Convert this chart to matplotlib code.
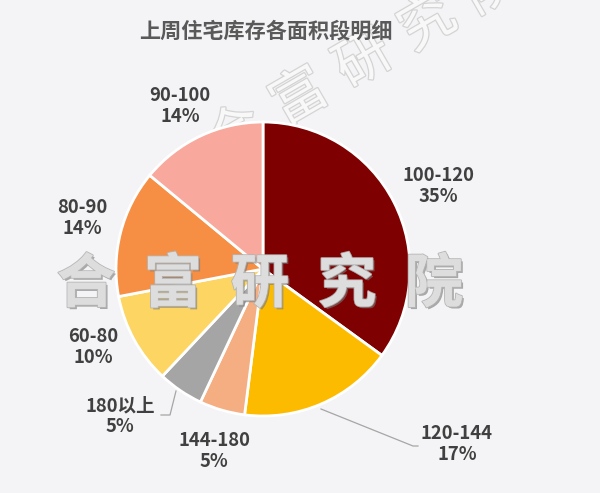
import matplotlib
matplotlib.use("Agg")
import matplotlib.pyplot as plt
import matplotlib.patheffects as pe

plt.rcParams['font.family'] = ['Noto Sans CJK SC', 'DejaVu Sans']

title = "上周住宅库存各面积段明细"
categories = ["100-120", "120-144", "144-180", "180以上", "60-80", "80-90", "90-100"]
values = [35, 17, 5, 5, 10, 14, 14]
colors = ["#7f0000", "#fdbb00", "#f4ae82", "#a5a5a5", "#fdd562", "#f68f43", "#f8a89c"]
watermark = "合富研究院"

# label positions (pixel coords, y from top)
label_pos = [(438, 186), (457, 444), (214, 451), (120, 416), (93, 347), (82, 218), (180, 106)]

W, H = 600, 493
fig = plt.figure(figsize=(6, 4.93), dpi=100)
fig.patch.set_facecolor("#f4f3f5")
ax = fig.add_axes([0, 0, 1, 1])

def Y(y):
    return H - y

# diagonal watermark (behind pie)
dx, dy = 64, -37
for i, ch in enumerate(watermark):
    ax.text(236 + i * dx, Y(135 + i * dy), ch, fontsize=40, color="#f8f8f8",
            ha="center", va="center", rotation=30, zorder=0.5, clip_on=True,
            path_effects=[pe.withStroke(linewidth=1.8, foreground="#d4d4d4")])

cx, cy, r = 263, Y(269), 147
wedges, _ = ax.pie(values, colors=colors, startangle=90, counterclock=False,
                   center=(cx, cy), radius=r, frame=True,
                   wedgeprops=dict(edgecolor="white", linewidth=2))
ax.set_xlim(0, W)
ax.set_ylim(0, H)
ax.axis("off")
ax.set_aspect("equal")
for w in wedges:
    w.set_zorder(1)

# leader lines
ax.plot([321, 413, 418], [Y(409), Y(446), Y(446)], color="#a6a6a6", lw=0.9, zorder=2)
ax.plot([176, 170, 161], [Y(391), Y(415), Y(415)], color="#a6a6a6", lw=0.9, zorder=2)

for (lx, ly), cat, v in zip(label_pos, categories, values):
    ax.text(lx, Y(ly), f"{cat}\n{v}%", fontsize=13.3, fontweight="bold",
            color="#404040", ha="center", va="center", linespacing=1.12, zorder=3)

ax.text(266, Y(31), title, fontsize=15.2, fontweight="bold", color="#595959",
        ha="center", va="center", zorder=3)

# horizontal watermark (on top)
for i, ch in enumerate(watermark):
    ax.text(86 + i * 87, Y(285), ch, fontsize=42, fontweight="bold",
            color="#dedede", alpha=0.92, ha="center", va="center", zorder=4,
            path_effects=[pe.SimplePatchShadow(offset=(1.5, -1.5), shadow_rgbFace="#777777", alpha=0.6),
                          pe.withStroke(linewidth=1.5, foreground="#b5b5b5"),
                          pe.Normal()])

fig.savefig("out.png", dpi=100, facecolor=fig.get_facecolor())
